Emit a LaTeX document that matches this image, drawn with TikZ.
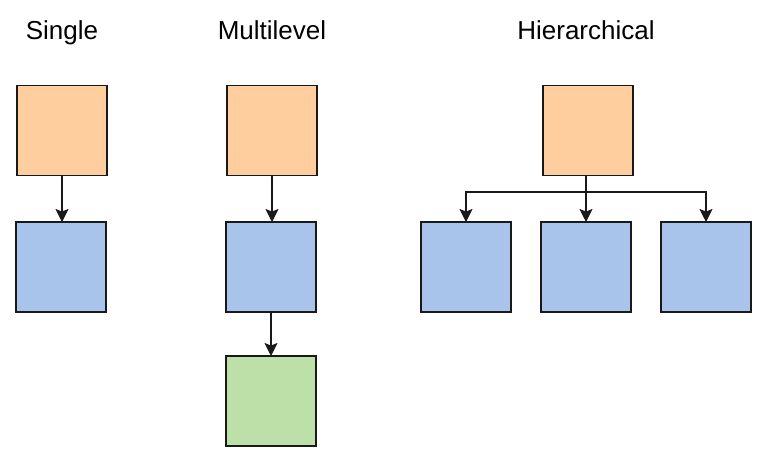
\documentclass[tikz,border=0pt]{standalone}
\usepackage{fontspec}
\setmainfont{Liberation Sans}
\usetikzlibrary{arrows.meta}
\definecolor{orangefill}{HTML}{FFCE9F}
\definecolor{bluefill}{HTML}{A9C4EB}
\definecolor{greenfill}{HTML}{BDDFA8}
\tikzset{
  box/.style={draw=black!90, line width=1.3pt, minimum width=90pt, minimum height=90pt, inner sep=0pt, outer sep=0pt},
  obox/.style={box, fill=orangefill},
  bbox/.style={box, fill=bluefill},
  gbox/.style={box, fill=greenfill},
  arr/.style={draw=black!90, line width=1.3pt, -{Stealth[length=13pt,width=13pt,inset=2.5pt]}},
  title/.style={font=\fontsize{26pt}{30pt}\selectfont, inner sep=0pt, anchor=base}
}
\begin{document}
\begin{tikzpicture}[x=1pt,y=-1pt]
\useasboundingbox (0,0) rectangle (767,465);
% titles
\node[title] (t1) at (62,39.5) {Single};
\node[title] (t2) at (272,39.5) {Multilevel};
\node[title] (t3) at (586,39.5) {Hierarchical};
% single
\node[obox] (s1) at (62,130.5) {};
\node[bbox] (s2) at (61,267) {};
\draw[arr] (s1.south) -- (s1.south |- s2.north);
% multilevel
\node[obox] (m1) at (272,130.5) {};
\node[bbox] (m2) at (271,267) {};
\node[gbox] (m3) at (271,401) {};
\draw[arr] (m1.south) -- (m1.south |- m2.north);
\draw[arr] (m2.south) -- (m3.north);
% hierarchical
\node[obox] (h0) at (588,130.5) {};
\node[bbox] (h1) at (466,267) {};
\node[bbox] (h2) at (586,267) {};
\node[bbox] (h3) at (706,267) {};
\coordinate (hs) at (586,192);
\draw[arr] (h0.south -| hs) -- (hs) -| (h1.north);
\draw[arr] (h0.south -| hs) -- (h2.north);
\draw[arr] (h0.south -| hs) -- (hs) -| (h3.north);
\end{tikzpicture}
\end{document}
